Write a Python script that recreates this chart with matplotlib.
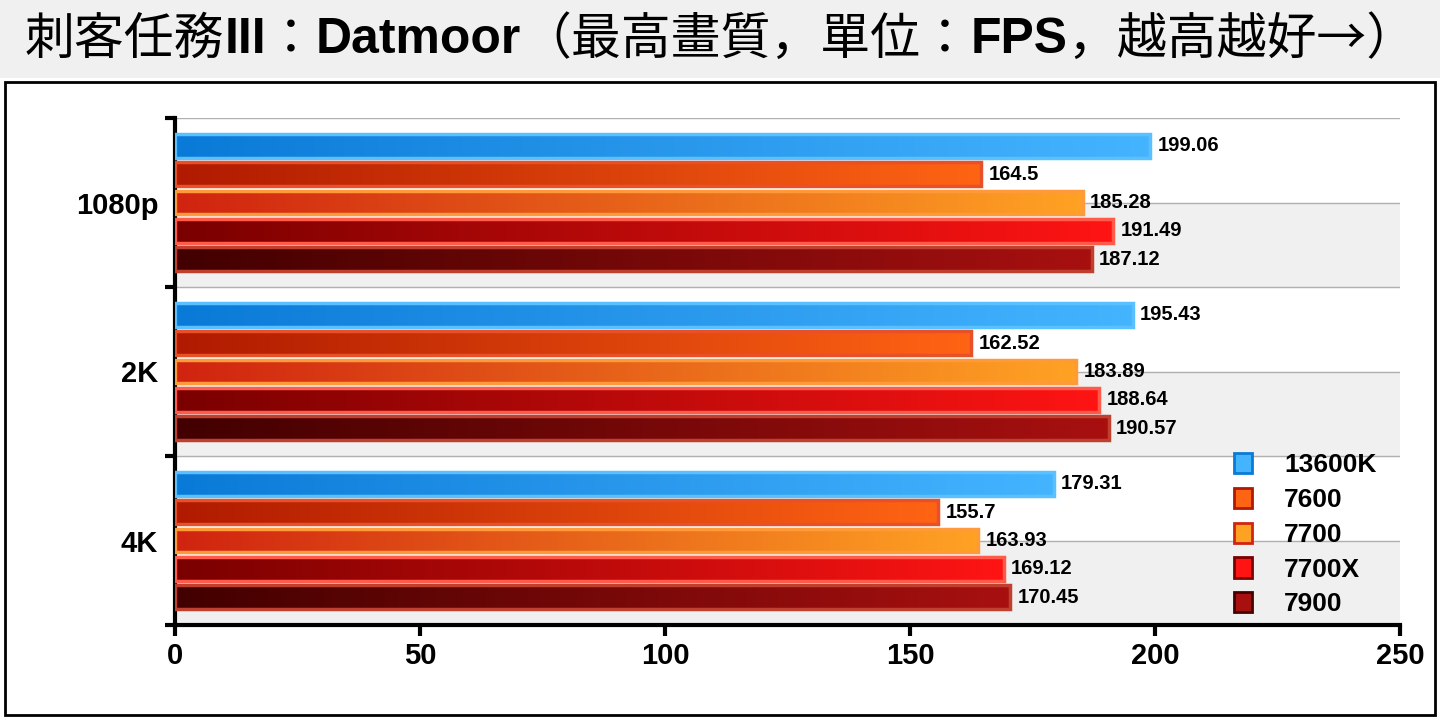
import matplotlib.pyplot as plt
import numpy as np
from matplotlib.colors import LinearSegmentedColormap
from matplotlib.patches import Rectangle, Patch

groups = ["1080p", "2K", "4K"]
cpus = ["13600K", "7600", "7700", "7700X", "7900"]
fps_13600k = [199.06, 195.43, 179.31]
fps_7600 = [164.5, 162.52, 155.7]
fps_7700 = [185.28, 183.89, 163.93]
fps_7700x = [191.49, 188.64, 169.12]
fps_7900 = [187.12, 190.57, 170.45]
series = [fps_13600k, fps_7600, fps_7700, fps_7700x, fps_7900]

# (left colour, right colour, edge colour)
styles = [("#0a7ad8", "#45b4ff", "#5ac0ff"),
          ("#b01a00", "#ff6414", "#e8502a"),
          ("#d02410", "#ffa224", "#ff9a3a"),
          ("#7a0000", "#ff1414", "#ff5a4a"),
          ("#420000", "#a81010", "#c04030")]

CJK = ["Noto Sans CJK TC", "Noto Sans CJK JP", "Noto Sans CJK SC", "Noto Sans CJK KR"]
LAT = "Liberation Sans"

fig = plt.figure(figsize=(14.4, 7.2), dpi=100)
fig.patch.set_facecolor("white")
fig.patches.append(Rectangle((0, 1 - 78 / 720), 1, 78 / 720, transform=fig.transFigure,
                             facecolor="#f0f0f0", edgecolor="none", zorder=-1))
fig.patches.append(Rectangle((5 / 1440, 5 / 720), 1430 / 1440, (715 - 82) / 720, transform=fig.transFigure,
                             facecolor="none", edgecolor="black", lw=2))

ax = fig.add_axes([175 / 1440, 1 - 625 / 720, 1225 / 1440, 507 / 720])
ax.set_xlim(0, 250)
ax.set_ylim(3, 0)

for k in range(3):
    ax.axhspan(k + 0.5, k + 1, color="#f0f0f0", zorder=0)
for y in np.arange(0, 3.01, 0.5):
    ax.axhline(y, color="#b0b0b0", lw=1, zorder=0.5)

h = 0.142
for j, vals in enumerate(series):
    c0, c1, ec = styles[j]
    cmap = LinearSegmentedColormap.from_list("g%d" % j, [c0, c1])
    for i, v in enumerate(vals):
        yc = i + 0.5 + (j - 2) * 0.1675
        rect = Rectangle((0, yc - h / 2), v, h, facecolor="none", edgecolor=ec, lw=2.5, zorder=3)
        ax.add_patch(rect)
        im = ax.imshow(np.linspace(0, 1, 256).reshape(1, -1), cmap=cmap, aspect="auto",
                       extent=(0, v, yc + h / 2, yc - h / 2), zorder=2, interpolation="bilinear")
        im.set_clip_path(rect)
        ax.text(v + 1.5, yc, str(v), va="center", ha="left", fontsize=14.5, fontweight="bold",
                family=LAT, zorder=4)
ax.set_xlim(0, 250)
ax.set_ylim(3, 0)

ax.set_yticks([0, 1, 2, 3])
ax.set_yticklabels([])
ax.set_yticks([0.5, 1.5, 2.5], minor=True)
ax.set_yticklabels(groups, minor=True, fontsize=21, fontweight="bold", family=LAT)
ax.tick_params(axis="y", which="minor", length=0, pad=12)
ax.tick_params(axis="y", which="major", length=7, width=3, direction="out")
ax.set_xticks(range(0, 251, 50))
ax.set_xticklabels([str(x) for x in range(0, 251, 50)], fontsize=21, fontweight="bold", family=LAT)
ax.tick_params(axis="x", length=8, width=3, direction="out", pad=4)
for s in ["top", "right"]:
    ax.spines[s].set_visible(False)
for s in ["left", "bottom"]:
    ax.spines[s].set_linewidth(3)

handles = [Patch(facecolor=styles[j][1], edgecolor=styles[j][0], lw=2) for j in range(5)]
leg = ax.legend(handles, cpus, loc="lower right", bbox_to_anchor=(1.0, -0.03), frameon=False,
                prop={"family": LAT, "weight": "bold", "size": 19},
                handlelength=0.7, handleheight=0.8, labelspacing=0.4, handletextpad=1.2)

# title: CJK normal, Latin bold; scaled to fill the header width
parts = [("刺客任務", False), ("III", True), ("：", False), ("Datmoor", True),
         ("（最高畫質，單位：", False), ("FPS", True), ("，越高越好→）", False)]
fig.canvas.draw()
r = fig.canvas.get_renderer()


def draw_title(size):
    x = 25
    made = []
    for txt, bold in parts:
        t = fig.text(x / 1440, 1 - 40 / 720, txt, va="center", ha="left", fontsize=size,
                     family=LAT if bold else CJK, fontweight="bold" if bold else "normal")
        x += t.get_window_extent(renderer=r).width
        made.append(t)
    return made, x


made, xend = draw_title(30)
size = 30 * (1415 - 25) / (xend - 25)
for t in made:
    t.remove()
draw_title(size)

fig.savefig("out.png", dpi=100)
